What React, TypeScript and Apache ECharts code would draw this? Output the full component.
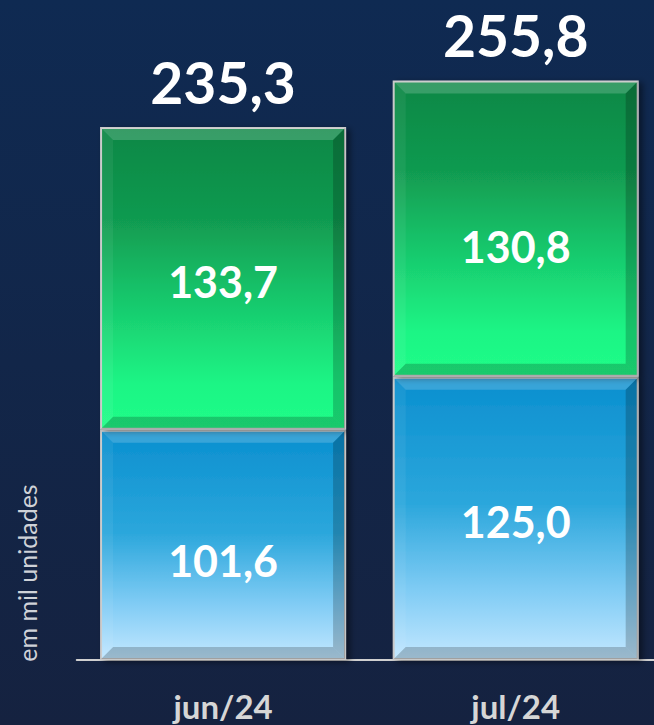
import React, { useEffect, useRef } from "react";
import * as echarts from "echarts";

const categories = ["jun/24", "jul/24"];
const blueValues = [101.6, 125.0];
const greenValues = [133.7, 130.8];
const totals = [235.3, 255.8];
const yMax = 290;

const BAR_W = 246;
const BEVEL = 12;
const blueLabelOffsets = [16, 3];
const greenLabelOffsets = [3, 18];

const fmt = (v: number) => v.toFixed(1).replace(".", ",");

export default function App() {
  const ref = useRef<HTMLDivElement>(null);
  useEffect(() => {
    document.body.style.margin = "0";
    document.body.style.overflow = "hidden";
    document.documentElement.style.overflow = "hidden";
    const chart = echarts.init(ref.current!, null, { renderer: "svg" });

    const segments: number[][] = [];
    categories.forEach((_, i) => {
      segments.push([i, 0, blueValues[i], blueValues[i], 0]);
      segments.push([i, blueValues[i], blueValues[i] + greenValues[i], greenValues[i], 1]);
    });
    const totalData = categories.map((_, i) => [i, totals[i]]);

    const barStyleCommon = {
      borderColor: "#c9c9c9",
      borderWidth: 2,
      shadowBlur: 6,
      shadowOffsetX: 4,
      shadowOffsetY: 2,
      shadowColor: "rgba(0,0,0,0.45)",
    };

    chart.setOption({
      animation: false,
      backgroundColor: {
        type: "linear",
        x: 0,
        y: 0,
        x2: 0,
        y2: 1,
        colorStops: [
          { offset: 0, color: "#0f2a52" },
          { offset: 1, color: "#152240" },
        ],
      },
      grid: { left: 76.75, right: 0, top: 3, bottom: 65 },
      xAxis: {
        type: "category",
        data: categories,
        axisTick: { show: false },
        axisLine: { lineStyle: { color: "#d0d0d0", width: 2 } },
        axisLabel: {
          fontFamily: "Lato",
          fontWeight: "bold",
          fontSize: 33,
          color: "#d6d6d6",
          margin: 29,
        },
      },
      yAxis: {
        type: "value",
        min: 0,
        max: yMax,
        show: false,
        splitLine: { show: false },
      },
      graphic: [
        {
          type: "text",
          x: 27,
          y: 573,
          rotation: Math.PI / 2,
          style: {
            text: "em mil unidades",
            fill: "#cfd2d8",
            fontFamily: "Lato",
            fontSize: 25,
            align: "center",
            verticalAlign: "middle",
          },
        },
      ],
      series: [
        {
          type: "bar",
          stack: "t",
          z: 2,
          barWidth: BAR_W,
          data: blueValues,
          itemStyle: {
            ...barStyleCommon,
            color: {
              type: "linear",
              x: 0,
              y: 0,
              x2: 0,
              y2: 1,
              colorStops: [
                { offset: 0, color: "#0a8fcf" },
                { offset: 0.45, color: "#2ca7dc" },
                { offset: 0.75, color: "#7ecbf4" },
                { offset: 1, color: "#c2e7ff" },
              ],
            },
          },
        },
        {
          type: "bar",
          stack: "t",
          z: 2,
          barWidth: BAR_W,
          data: greenValues,
          itemStyle: {
            ...barStyleCommon,
            color: {
              type: "linear",
              x: 0,
              y: 0,
              x2: 0,
              y2: 1,
              colorStops: [
                { offset: 0, color: "#0f8745" },
                { offset: 0.3, color: "#119a50" },
                { offset: 0.55, color: "#17c46a" },
                { offset: 0.85, color: "#1ef585" },
                { offset: 1, color: "#20fd88" },
              ],
            },
          },
        },
        {
          type: "custom",
          z: 3,
          data: segments,
          renderItem: (params: any, api: any) => {
            const i = api.value(0);
            const p0 = api.coord([i, api.value(1)]);
            const p1 = api.coord([i, api.value(2)]);
            const v = api.value(3);
            const kind = api.value(4);
            const x0 = p0[0] - BAR_W / 2 + 1;
            const x1 = p0[0] + BAR_W / 2 - 1;
            const yb = p0[1] - 1;
            const yt = p1[1] + 1;
            const b = BEVEL;
            const off = kind === 0 ? blueLabelOffsets[i] : greenLabelOffsets[i];
            return {
              type: "group",
              children: [
                {
                  type: "polygon",
                  shape: { points: [[x0, yt], [x1, yt], [x1 - b, yt + b], [x0 + b, yt + b]] },
                  style: { fill: "rgba(255,255,255,0.18)" },
                },
                {
                  type: "polygon",
                  shape: { points: [[x0, yb], [x1, yb], [x1 - b, yb - b], [x0 + b, yb - b]] },
                  style: { fill: "rgba(0,0,0,0.2)" },
                },
                {
                  type: "polygon",
                  shape: { points: [[x0, yt], [x0 + b, yt + b], [x0 + b, yb - b], [x0, yb]] },
                  style: { fill: "rgba(255,255,255,0.06)" },
                },
                {
                  type: "polygon",
                  shape: { points: [[x1, yt], [x1 - b, yt + b], [x1 - b, yb - b], [x1, yb]] },
                  style: { fill: "rgba(0,0,0,0.2)" },
                },
                {
                  type: "text",
                  x: p0[0],
                  y: (p0[1] + p1[1]) / 2 + off,
                  style: {
                    text: fmt(v),
                    fill: "#ffffff",
                    fontFamily: "Lato",
                    fontWeight: "bold",
                    fontSize: 43,
                    align: "center",
                    verticalAlign: "middle",
                  },
                },
              ],
            };
          },
        },
        {
          type: "custom",
          z: 4,
          data: totalData,
          renderItem: (params: any, api: any) => {
            const p = api.coord([api.value(0), api.value(1)]);
            return {
              type: "text",
              x: p[0],
              y: p[1] - 45,
              style: {
                text: fmt(api.value(1)),
                fill: "#ffffff",
                fontFamily: "Lato",
                fontWeight: "bold",
                fontSize: 57,
                align: "center",
                verticalAlign: "middle",
              },
            };
          },
        },
      ],
    });
    return () => chart.dispose();
  }, []);
  return (
    <div
      ref={ref}
      style={{ position: "fixed", left: 0, top: 0, width: 662, height: 725 }}
    />
  );
}
